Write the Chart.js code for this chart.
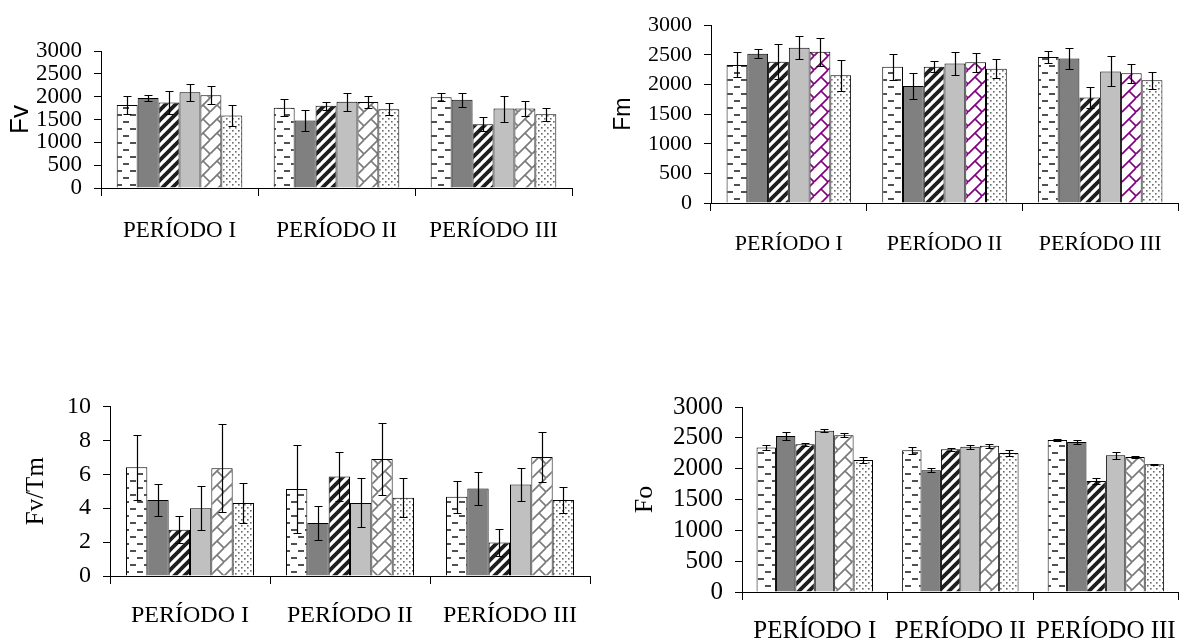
<!DOCTYPE html>
<html>
<head>
<meta charset="utf-8">
<script src="https://cdn.jsdelivr.net/npm/chart.js@4.4.0/dist/chart.umd.min.js"></script>
<style>
  html, body { margin: 0; padding: 0; background: #fff; width: 1192px; height: 644px; overflow: hidden; }
  canvas { position: absolute; display: block; }
</style>
</head>
<body>
<canvas id="cFv"   width="590" height="260" style="left:0;top:0"></canvas>
<canvas id="cFm"   width="602" height="270" style="left:590px;top:0"></canvas>
<canvas id="cFvTm" width="600" height="264" style="left:0;top:380px"></canvas>
<canvas id="cFo"   width="592" height="264" style="left:600px;top:380px"></canvas>
<script>
// Categories shared by every panel
const periods = ['PERÍODO I', 'PERÍODO II', 'PERÍODO III'];

// Six treatments per period; each inner array = one treatment over the three periods
const fvMeans = [
  [1820, 1760, 1985],
  [1970, 1480, 1930],
  [1870, 1800, 1395],
  [2095, 1890, 1740],
  [2030, 1885, 1740],
  [1590, 1725, 1615]
];
const fvErrors = [
  [190, 180, 88],
  [65, 230, 155],
  [250, 90, 155],
  [185, 195, 285],
  [200, 140, 165],
  [230, 130, 143]
];

const fmMeans = [
  [2330, 2300, 2465],
  [2520, 1975, 2440],
  [2385, 2300, 1780],
  [2620, 2355, 2220],
  [2550, 2375, 2190],
  [2155, 2265, 2070]
];
const fmErrors = [
  [212, 222, 100],
  [77, 220, 175],
  [290, 90, 185],
  [192, 195, 253],
  [240, 157, 160],
  [260, 157, 146]
];

const fvTmMeans = [
  [6.41, 5.13, 4.68],
  [4.48, 3.12, 5.16],
  [2.73, 5.87, 1.97],
  [3.99, 4.31, 5.40],
  [6.35, 6.90, 7.02],
  [4.31, 4.62, 4.48]
];
const fvTmErrors = [
  [1.90, 2.60, 0.95],
  [0.92, 1.00, 0.97],
  [0.80, 1.45, 0.82],
  [1.30, 1.45, 0.97],
  [2.60, 2.10, 1.50],
  [1.20, 1.17, 0.75]
];

const foMeans = [
  [2345, 2300, 2465],
  [2530, 1975, 2432],
  [2395, 2313, 1800],
  [2616, 2357, 2216],
  [2540, 2373, 2189],
  [2140, 2254, 2070]
];
const foErrors = [
  [35, 55, 15],
  [65, 30, 30],
  [25, 20, 45],
  [20, 30, 55],
  [33, 35, 15],
  [50, 45, 10]
];

// Y axis ranges
const fluorRange = { max: 3000, step: 500 };
const ratioRange = { max: 10, step: 2 };

const SERIF = '"Liberation Serif", "Times New Roman", serif';
const SANS = '"Liberation Sans", Arial, sans-serif';

// ---- fill patterns -------------------------------------------------------
function makePattern(kind, color) {
  const c = document.createElement('canvas');
  let w = 10, h = 10;
  if (kind === 'dash') { w = 14; h = 14; }
  if (kind === 'brick') { w = 14; h = 14; }
  if (kind === 'dots') { w = 6; h = 6; }
  c.width = w; c.height = h;
  const g = c.getContext('2d');
  g.fillStyle = '#fff';
  g.fillRect(0, 0, w, h);
  if (kind === 'dash') {
    g.fillStyle = '#505050';
    g.fillRect(4, 2, 6, 2);
    g.fillRect(11, 9, 3, 2);
    g.fillRect(0, 9, 3, 2);
  } else if (kind === 'stripe') {
    g.strokeStyle = '#1e1e1e';
    g.lineWidth = 3.8;
    for (let k = -1; k <= 1; k++) {
      g.beginPath();
      g.moveTo(-2 + k * w, h + 2);
      g.lineTo(w + 2 + k * w, -2);
      g.stroke();
    }
  } else if (kind === 'brick') {
    // slanted brick courses with short mortar joints
    g.strokeStyle = color;
    g.lineWidth = 1.7;
    for (let k = -1; k <= 1; k++) {
      g.beginPath();
      g.moveTo(k * w, h);
      g.lineTo(w + k * w, 0);
      g.stroke();
    }
    g.beginPath();
    g.moveTo(w / 2, h / 2);
    g.lineTo(w, h);
    g.moveTo(w / 2 - w, h / 2 + h);
    g.lineTo(0, 2 * h);
    g.moveTo(-w / 2, -h / 2);
    g.lineTo(0, 0);
    g.stroke();
  } else if (kind === 'dots') {
    g.fillStyle = '#6a6a6a';
    g.fillRect(1, 1, 1.6, 1.6);
    g.fillRect(4, 4, 1.6, 1.6);
  }
  return c;
}

function fillsFor(ctx, brickColor) {
  return [
    ctx.createPattern(makePattern('dash'), 'repeat'),
    '#808080',
    ctx.createPattern(makePattern('stripe'), 'repeat'),
    '#c0c0c0',
    ctx.createPattern(makePattern('brick', brickColor), 'repeat'),
    ctx.createPattern(makePattern('dots'), 'repeat')
  ];
}

// ---- error bars (mean ± error) -------------------------------------------
const errorBars = {
  id: 'errorBars',
  afterDatasetsDraw(chart) {
    const ctx = chart.ctx;
    const ys = chart.scales.y;
    ctx.save();
    ctx.strokeStyle = '#000';
    ctx.lineWidth = 1.2;
    chart.data.datasets.forEach((ds, i) => {
      const meta = chart.getDatasetMeta(i);
      meta.data.forEach((bar, j) => {
        const v = ds.data[j], e = ds.errors[j];
        const x = Math.round(bar.x) + 0.5;
        const top = Math.round(ys.getPixelForValue(v + e)) + 0.5;
        const bot = Math.round(ys.getPixelForValue(v - e)) + 0.5;
        ctx.beginPath();
        ctx.moveTo(x, top); ctx.lineTo(x, bot);
        ctx.moveTo(x - 4, top); ctx.lineTo(x + 4, top);
        ctx.moveTo(x - 4, bot); ctx.lineTo(x + 4, bot);
        ctx.stroke();
      });
    });
    ctx.restore();
  }
};

// ---- one grouped bar panel -----------------------------------------------
function buildPanel(id, means, errors, range, L) {
  const canvas = document.getElementById(id);
  const fills = fillsFor(canvas.getContext('2d'), L.brickColor || '#7a7a7a');
  return new Chart(canvas, {
    type: 'bar',
    data: {
      labels: periods,
      datasets: means.map((m, i) => ({
        data: m,
        errors: errors[i],
        backgroundColor: fills[i],
        borderColor: '#000',
        borderWidth: 1,
        categoryPercentage: 0.8,
        barPercentage: 1
      }))
    },
    options: {
      responsive: false,
      animation: false,
      events: [],
      layout: { padding: { top: L.padTop, right: L.padRight, left: 0, bottom: 0 } },
      plugins: { legend: { display: false }, tooltip: { enabled: false } },
      scales: {
        x: {
          grid: { drawOnChartArea: false, tickLength: 8, color: '#000', offset: true },
          border: { color: '#000' },
          ticks: {
            color: '#000', autoSkip: false, maxRotation: 0, padding: L.xPad,
            font: { family: SERIF, size: L.xFont, lineHeight: 1.2 }
          },
          afterFit: s => { s.height = L.xHeight; }
        },
        y: {
          min: 0, max: range.max,
          grid: { drawOnChartArea: false, tickLength: 7, color: '#000' },
          border: { color: '#000' },
          ticks: {
            stepSize: range.step, autoSkip: false, color: '#000', padding: 12,
            font: { family: SERIF, size: L.yFont, lineHeight: 1.2 },
            callback: v => String(v)
          },
          title: {
            display: true, text: L.title, color: '#000',
            font: { family: L.titleFamily, size: L.titleSize, lineHeight: 1.2 },
            padding: { top: L.titlePad, bottom: 0 }
          },
          afterFit: s => { s.width = L.yWidth; }
        }
      }
    },
    plugins: [errorBars]
  });
}

buildPanel('cFv', fvMeans, fvErrors, fluorRange, {
  padTop: 51, padRight: 18, yWidth: 101, xHeight: 72,
  xFont: 23, xPad: 21, yFont: 23,
  title: 'Fv', titleFamily: SANS, titleSize: 26, titlePad: 5
});

buildPanel('cFm', fmMeans, fmErrors, fluorRange, {
  padTop: 21, padRight: 14, yWidth: 121, xHeight: 67,
  xFont: 22, xPad: 20, yFont: 22,
  title: 'Fm', titleFamily: SANS, titleSize: 23, titlePad: 20,
  brickColor: '#800080'
});

buildPanel('cFvTm', fvTmMeans, fvTmErrors, ratioRange, {
  padTop: 25, padRight: 10, yWidth: 110, xHeight: 68,
  xFont: 24, xPad: 17, yFont: 24,
  title: 'Fv/Tm', titleFamily: SERIF, titleSize: 25, titlePad: 21
});

buildPanel('cFo', foMeans, foErrors, fluorRange, {
  padTop: 27, padRight: 2, yWidth: 142, xHeight: 52,
  xFont: 25, xPad: 16, yFont: 25,
  title: 'Fo', titleFamily: SERIF, titleSize: 26, titlePad: 30
});
</script>
</body>
</html>
